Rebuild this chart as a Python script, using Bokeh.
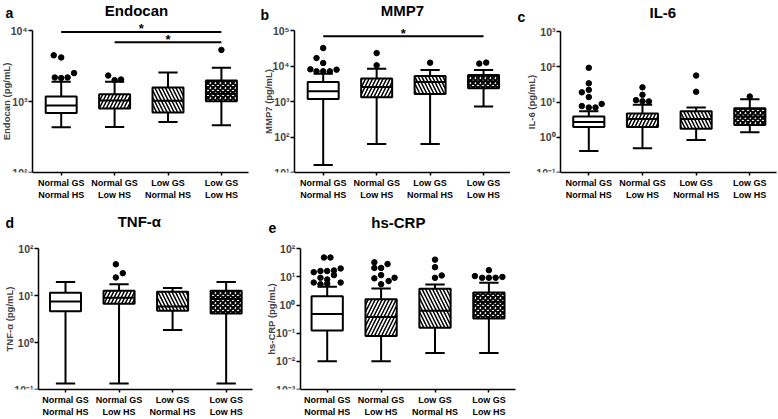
from bokeh.plotting import figure
from bokeh.layouts import column, row
from bokeh.models import FixedTicker, CustomJSTickFormatter, Label, Range1d
from bokeh.core.properties import value
from bokeh.embed import file_html
from bokeh.resources import INLINE

# ---------------- data ----------------
group_labels = ["Normal GS\nNormal HS", "Normal GS\nLow HS", "Low GS\nNormal HS", "Low GS\nLow HS"]
hatches = [None, "/", "\\", "x"]

# a: Endocan (pg/mL)
endocan_wlo = [434, 438, 515, 464]
endocan_q1 = [690, 794, 700, 1012]
endocan_med = [881, 1037, 1028, 1288]
endocan_q3 = [1172, 1265, 1574, 1972]
endocan_whi = [1905, 1905, 2560, 2990]
endocan_out_group = [0, 0, 0, 0, 0, 0, 1, 1, 1, 3]
endocan_out_value = [4470, 4170, 2180, 2140, 2180, 2510, 2320, 2000, 2040, 5330]
endocan_out_dodge = [-0.14, 0, -0.12, 0, 0.12, 0.24, -0.12, 0, 0.12, 0]
endocan_sig_from = [1, 2]
endocan_sig_to = [4, 4]
endocan_sig_level = [9550, 6840]

# b: MMP7 (pg/mL)
mmp7_wlo = [16.2, 63, 63, 724]
mmp7_q1 = [1175, 1318, 1622, 2344]
mmp7_med = [1950, 2570, 3548, 3715]
mmp7_q3 = [3548, 4467, 5248, 5623]
mmp7_whi = [6026, 8318, 7762, 7762]
mmp7_out_group = [0, 0, 0, 0, 0, 0, 0, 0, 1, 1, 2, 3, 3]
mmp7_out_value = [32000, 16750, 12130, 8070, 7080, 7080, 7080, 7890, 23120, 10440, 12390, 11670, 12450]
mmp7_out_dodge = [0, -0.125, 0, -0.24, -0.125, 0, 0.125, 0.25, 0, 0, 0, -0.08, 0.05]
mmp7_sig_from = [1]
mmp7_sig_to = [4]
mmp7_sig_level = [69180]

# c: IL-6 (pg/mL)
il6_wlo = [0.41, 0.49, 0.83, 1.38]
il6_q1 = [1.95, 1.95, 1.74, 2.24]
il6_med = [2.69, 3.27, 3.31, 3.89]
il6_q3 = [3.89, 4.73, 5.50, 6.61]
il6_whi = [5.43, 8.32, 7.00, 11.9]
il6_out_group = [0, 0, 0, 0, 0, 0, 0, 0, 0, 1, 1, 1, 1, 1, 2, 2, 3]
il6_out_value = [93.3, 33.9, 18.8, 22.1, 13.8, 7.67, 6.97, 6.97, 8.83, 26.0, 16.0, 11.3, 10.5, 10.4, 56.2, 19.5, 14.3]
il6_out_dodge = [0, 0, -0.13, 0, 0, -0.13, 0, 0.125, 0.24, 0, 0, -0.12, 0, 0.12, 0, 0, 0]

# d: TNF-alpha (pg/mL)
tnf_wlo = [0.135, 0.135, 1.85, 0.135]
tnf_q1 = [4.65, 6.71, 4.79, 4.17]
tnf_med = [7.53, 9.06, 5.90, 8.51]
tnf_q3 = [11.6, 12.8, 12.2, 12.8]
tnf_whi = [19.5, 17.5, 14.6, 19.5]
tnf_out_group = [1, 1, 1]
tnf_out_value = [46.8, 24.5, 30.2]
tnf_out_dodge = [-0.06, -0.06, 0.07]

# e: hs-CRP (pg/mL)
crp_wlo = [0.010, 0.010, 0.020, 0.020]
crp_q1 = [0.126, 0.079, 0.155, 0.334]
crp_med = [0.479, 0.376, 0.631, 1.318]
crp_q3 = [2.04, 1.60, 3.80, 2.82]
crp_whi = [4.47, 3.89, 5.43, 6.25]
crp_out_group = [0] * 14 + [1] * 9 + [2] * 4 + [3] * 6
crp_out_value = [49.0, 49.0, 14.8, 16.2, 16.2, 17.0, 20.0, 11.6, 9.33, 8.13, 6.31, 5.50, 5.75, 6.31,
                 33.1, 28.8, 20.9, 20.9, 11.6, 8.91, 9.33, 5.50, 7.16,
                 41.2, 22.2, 9.33, 11.3,
                 17.4, 10.7, 9.33, 9.33, 9.33, 10.0]
crp_out_dodge = [-0.06, 0.06, -0.25, -0.125, 0, 0.125, 0.25, 0.125, -0.125, 0, -0.25, -0.125, 0, 0.25,
                 -0.125, 0.12, -0.125, 0, 0, -0.125, 0.25, 0, 0.14,
                 0, 0, 0, 0.125,
                 0, -0.26, -0.125, 0, 0.125, 0.25]

FONT = "Liberation Sans"

SUP_JS = """
const sup = {"-":"\u207b","0":"\u2070","1":"\u00b9","2":"\u00b2","3":"\u00b3","4":"\u2074",
             "5":"\u2075","6":"\u2076","7":"\u2077","8":"\u2078","9":"\u2079"};
const e = Math.round(Math.log10(tick));
return "10" + String(e).split("").map(c => sup[c]).join("");
"""


def make_panel(title, letter, ylabel, stats, outs, sig, lo_exp, hi_exp,
               W, H, bb, c1, sp, yt, axis_x, title_pos, letter_pos):
    wlo, q1, med, q3, whi = stats
    frame_h = H - bb
    x_start = 1 - c1 / sp
    x_end = 1 + (W - c1) / sp
    ppd = (frame_h - yt) / (hi_exp - lo_exp)
    top_log = hi_exp + yt / ppd

    def py2y(py):
        return 10 ** (top_log - py / ppd)

    def px2x(px):
        return x_start + px / sp

    p = figure(width=W, height=H, y_axis_type="log",
               x_range=Range1d(x_start, x_end),
               y_range=Range1d(10 ** lo_exp, 10 ** top_log),
               output_backend="svg", toolbar_location=None,
               min_border_left=0, min_border_right=0,
               min_border_top=0, min_border_bottom=bb)
    p.title.visible = False
    p.outline_line_color = None
    p.xgrid.visible = False
    p.ygrid.visible = False
    p.background_fill_color = "white"
    p.border_fill_color = "white"

    xs = [1, 2, 3, 4]
    xa = p.xaxis[0]
    xa.ticker = FixedTicker(ticks=xs, minor_ticks=[])
    xa.major_label_overrides = {i + 1: group_labels[i] for i in range(4)}
    xa.bounds = (axis_x, 4.5)
    xa.major_label_text_font = FONT
    xa.major_label_text_font_size = "9px"
    xa.major_label_text_font_style = "bold"
    xa.major_label_text_color = "black"
    xa.major_label_standoff = 2
    xa.axis_line_width = 1.5
    xa.major_tick_line_width = 1.5
    xa.major_tick_out = 3
    xa.major_tick_in = 0
    xa.minor_tick_out = 0

    ya = p.yaxis[0]
    ya.fixed_location = axis_x
    ya.ticker = FixedTicker(ticks=[10 ** k for k in range(lo_exp, hi_exp + 1)], minor_ticks=[])
    ya.formatter = CustomJSTickFormatter(code=SUP_JS)
    ya.bounds = (10 ** lo_exp, 10 ** hi_exp)
    ya.axis_label = ylabel
    ya.axis_label_text_font = FONT
    ya.axis_label_text_font_size = "9.5px"
    ya.axis_label_text_font_style = "bold"
    ya.axis_label_standoff = -4
    ya.major_label_text_font = FONT
    ya.major_label_text_font_size = "10.5px"
    ya.major_label_text_font_style = "bold"
    ya.major_label_standoff = 1
    ya.axis_line_width = 1.5
    ya.major_tick_line_width = 1.5
    ya.major_tick_out = 4
    ya.major_tick_in = 0
    ya.minor_tick_out = 0
    ya.minor_tick_in = 0

    bw = 0.58
    cap = 0.18
    p.segment(x0=xs, x1=xs, y0=q3, y1=whi, line_color="black", line_width=2)
    p.segment(x0=xs, x1=xs, y0=wlo, y1=q1, line_color="black", line_width=2)
    p.segment(x0=[x - cap for x in xs], x1=[x + cap for x in xs], y0=whi, y1=whi,
              line_color="black", line_width=2)
    p.segment(x0=[x - cap for x in xs], x1=[x + cap for x in xs], y0=wlo, y1=wlo,
              line_color="black", line_width=2)
    for i in range(4):
        kw = {}
        if hatches[i]:
            kw = dict(hatch_pattern=hatches[i], hatch_color="black",
                      hatch_scale=7 if hatches[i] != "x" else 5,
                      hatch_weight=1.5 if hatches[i] != "x" else 2.0)
        p.vbar(x=[xs[i]], width=bw, bottom=[q1[i]], top=[q3[i]],
               fill_color="white", line_color="black", line_width=2, **kw)
    p.segment(x0=[x - bw / 2 for x in xs], x1=[x + bw / 2 for x in xs], y0=med, y1=med,
              line_color="black", line_width=2)
    og, ov, od = outs
    p.scatter(x=[xs[g] + d for g, d in zip(og, od)], y=ov, size=5.5,
              fill_color="black", line_color="black")
    if sig is not None:
        sf, st, sl = sig
        p.segment(x0=sf, x1=st, y0=sl, y1=sl, line_color="black", line_width=2)
        p.text(x=[(a + b) / 2 for a, b in zip(sf, st)], y=sl, text=["*"] * len(sl),
               text_align="center", text_baseline="middle", y_offset=-3,
               text_font=value(FONT), text_font_size="13px", text_font_style="bold",
               text_color="black")
    tx, tpy = title_pos
    p.add_layout(Label(x=tx, y=py2y(tpy), text=title, text_font=FONT,
                       text_font_size="15px", text_font_style="bold",
                       text_align="center", text_baseline="middle", text_color="black"))
    lx, ly = letter_pos
    p.add_layout(Label(x=px2x(lx), y=py2y(ly), text=letter, text_font=FONT,
                       text_font_size="14px", text_font_style="bold",
                       text_align="left", text_baseline="alphabetic", text_color="black"))
    return p


TOP_H, TOP_BB = 205, 33
BOT_H, BOT_BB = 214, 27
pa = make_panel("Endocan", "a", "Endocan (pg/mL)",
                (endocan_wlo, endocan_q1, endocan_med, endocan_q3, endocan_whi),
                (endocan_out_group, endocan_out_value, endocan_out_dodge),
                (endocan_sig_from, endocan_sig_to, endocan_sig_level),
                2, 4, 255, TOP_H, TOP_BB, 60.7, 53.4, 30, 0.463, (2.41, 10), (5, 12))
pb = make_panel("MMP7", "b", "MMP7 (pg/mL)",
                (mmp7_wlo, mmp7_q1, mmp7_med, mmp7_q3, mmp7_whi),
                (mmp7_out_group, mmp7_out_value, mmp7_out_dodge),
                (mmp7_sig_from, mmp7_sig_to, mmp7_sig_level),
                1, 5, 255, TOP_H, TOP_BB, 67.7, 53.45, 30, 0.463, (2.48, 10), (5, 14))
pc = make_panel("IL-6", "c", "IL-6 (pg/mL)",
                (il6_wlo, il6_q1, il6_med, il6_q3, il6_whi),
                (il6_out_group, il6_out_value, il6_out_dodge),
                None, -1, 3, 268, TOP_H, TOP_BB, 78.3, 53.67, 31, 0.473, (2.38, 12), (7, 16))
pd_ = make_panel("TNF-\u03b1", "d", "TNF-\u03b1 (pg/mL)",
                 (tnf_wlo, tnf_q1, tnf_med, tnf_q3, tnf_whi),
                 (tnf_out_group, tnf_out_value, tnf_out_dodge),
                 None, -1, 2, 255, BOT_H, BOT_BB, 65, 53.55, 44, 0.496, (2.38, 16), (5, 18))
pe = make_panel("hs-CRP", "e", "hs-CRP (pg/mL)",
                (crp_wlo, crp_q1, crp_med, crp_q3, crp_whi),
                (crp_out_group, crp_out_value, crp_out_dodge),
                None, -3, 2, 263, BOT_H, BOT_BB, 71.7, 53.9, 44, 0.50, (2.32, 17.5), (13, 23))

layout = column(row(pa, pb, pc, spacing=0), row(pd_, pe, spacing=0), spacing=0)
open("out.html", "w").write(file_html(layout, INLINE))
